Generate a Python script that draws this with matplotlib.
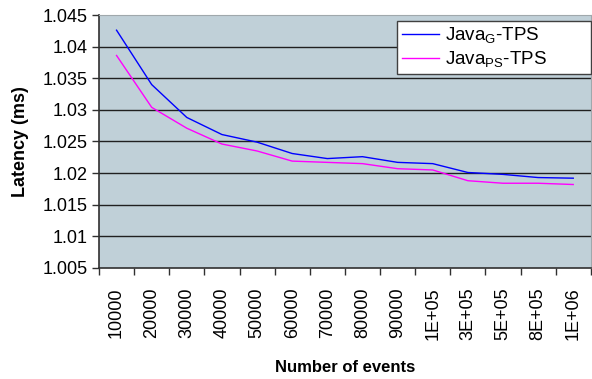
import matplotlib
matplotlib.use("Agg")
import matplotlib.pyplot as plt
import numpy as np

plt.rcParams['font.family'] = ['Liberation Sans', 'DejaVu Sans']
plt.rcParams['mathtext.fontset'] = 'custom'
plt.rcParams['mathtext.rm'] = 'Liberation Sans'

events = ["10000", "20000", "30000", "40000", "50000", "60000", "70000",
          "80000", "90000", "1E+05", "3E+05", "5E+05", "8E+05", "1E+06"]
java_g = [1.0426, 1.0340, 1.0288, 1.0261, 1.0249, 1.0231, 1.0223,
          1.0226, 1.0217, 1.0215, 1.0201, 1.0198, 1.0193, 1.0192]
java_ps = [1.0386, 1.0304, 1.0271, 1.0246, 1.0235, 1.0219, 1.0217,
           1.0215, 1.0207, 1.0205, 1.0188, 1.0184, 1.0184, 1.0182]
y_ticks = [1.005, 1.01, 1.015, 1.02, 1.025, 1.03, 1.035, 1.04, 1.045]
y_labels = ["1.005", "1.01", "1.015", "1.02", "1.025", "1.03", "1.035", "1.04", "1.045"]

fig = plt.figure(figsize=(5.92, 3.79), dpi=100)
ax = fig.add_axes([0.1672, 0.2929, 0.8308, 0.6675])
ax.set_facecolor('#c0d0d8')

x = np.arange(len(events))
ax.plot(x, java_g, color='#0000ff', lw=1.0, label=r'Java$_{\mathregular{G}}$-TPS')
ax.plot(x, java_ps, color='#ff00ff', lw=1.0, label=r'Java$_{\mathregular{PS}}$-TPS')

ax.set_xlim(-0.5, len(events) - 0.5)
ax.set_ylim(1.005, 1.045)
ax.set_yticks(y_ticks)
ax.set_yticklabels(y_labels, fontsize=13)
ax.set_xticks(x)
ax.set_xticklabels(events, rotation=90, fontsize=13)
ax.set_xticks(np.arange(len(events) + 1) - 0.5, minor=True)
ax.tick_params(axis='x', which='major', length=0, pad=14)
ax.tick_params(axis='x', which='minor', length=5, width=1, color='#303030')
ax.tick_params(axis='y', length=5, width=1, color='#303030', pad=3)

for t in y_ticks[1:-1]:
    ax.axhline(t, color='#202020', lw=1.0, zorder=1)

ax.spines['left'].set_color('#303030')
ax.spines['bottom'].set_color('#303030')
ax.spines['left'].set_linewidth(1.2)
ax.spines['bottom'].set_linewidth(1.2)
ax.spines['top'].set_color('#a0a8ac')
ax.spines['right'].set_color('#a0a8ac')

ax.set_xlabel('Number of events', fontsize=12, fontweight='bold', labelpad=14)
ax.set_ylabel('Latency (ms)', fontsize=13, fontweight='bold', labelpad=10)

leg = ax.legend(loc='upper left', bbox_to_anchor=(0.606, 0.778, 0.394, 0.2),
                mode='expand', borderaxespad=0,
                fontsize=13.5, frameon=True, fancybox=False, handlelength=2.0,
                handletextpad=0.3, labelspacing=0.2, borderpad=0.25)
leg.get_frame().set_edgecolor('#404040')
leg.get_frame().set_facecolor('white')
leg.get_frame().set_alpha(1)
leg.get_frame().set_linewidth(1.0)

fig.savefig('out.png', dpi=100)
